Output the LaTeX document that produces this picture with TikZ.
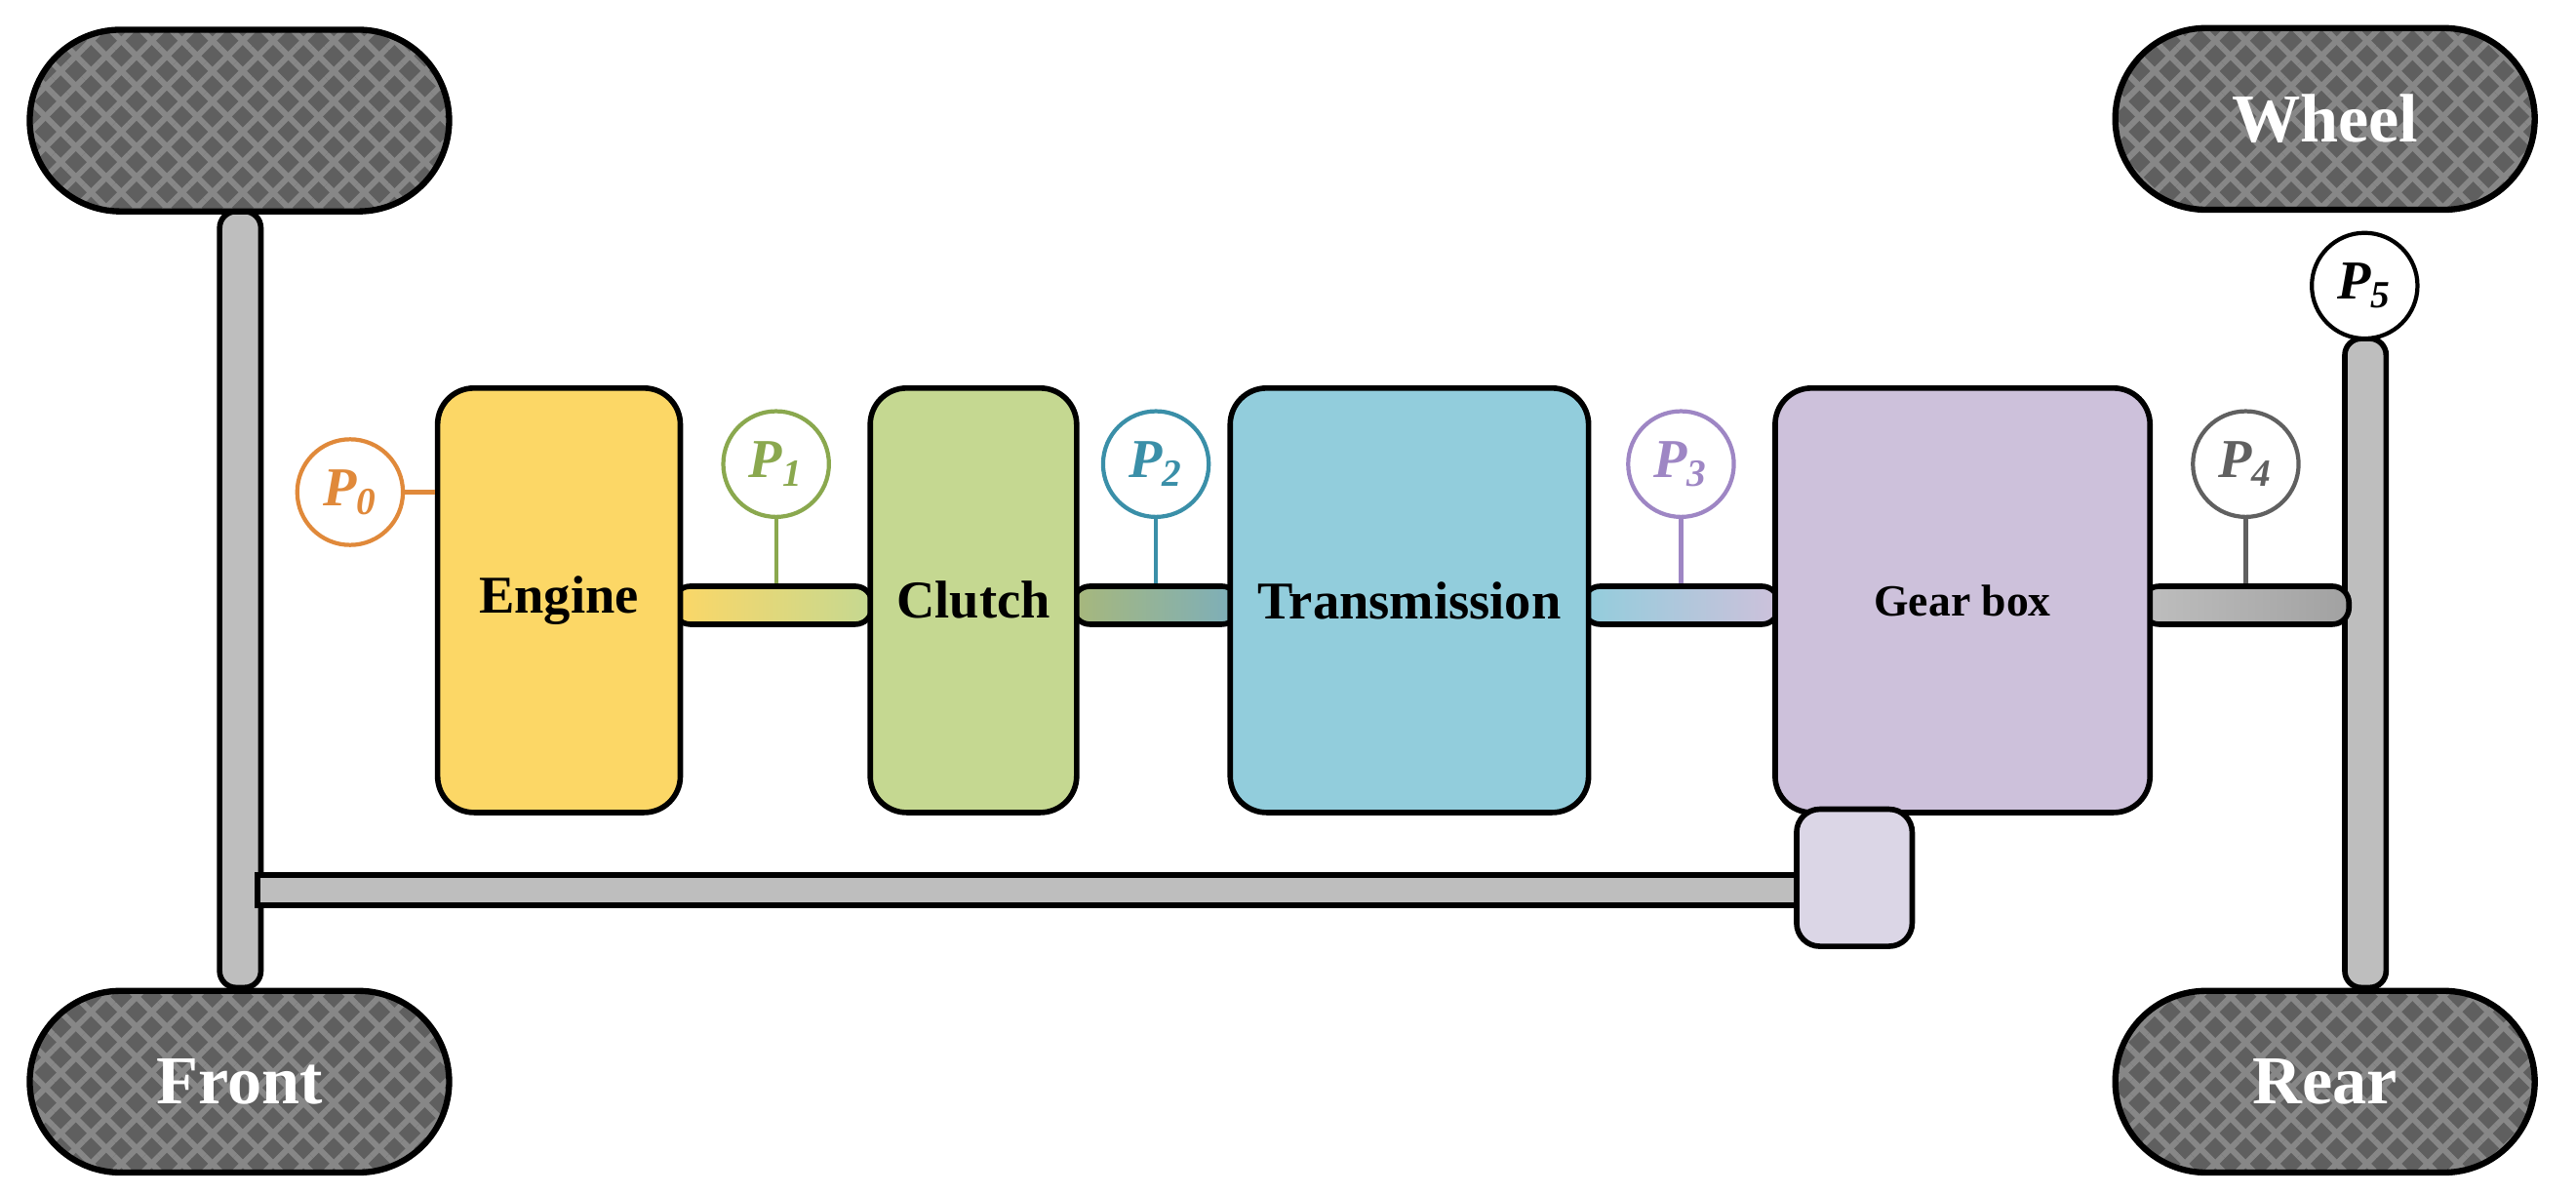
\documentclass[tikz,border=0pt]{standalone}
\usepackage{fontspec}
\setmainfont{Liberation Serif}
\usetikzlibrary{patterns.meta}
\newlength{\UU}\setlength{\UU}{0.1693mm}
\definecolor{eng}{HTML}{FCD766}
\definecolor{clu}{HTML}{C5D891}
\definecolor{tra}{HTML}{92CDDC}
\definecolor{gea}{HTML}{CDC1DB}
\definecolor{sma}{HTML}{DBD6E6}
\definecolor{cP0}{HTML}{E0893A}
\definecolor{cP1}{HTML}{8AA84E}
\definecolor{cP2}{HTML}{3A8FA8}
\definecolor{cP3}{HTML}{9E86C4}
\definecolor{cP4}{HTML}{606060}
\definecolor{axl}{HTML}{BEBEBE}
\definecolor{wdk}{HTML}{5F5F5F}
\definecolor{wlt}{HTML}{878787}
\begin{document}
\begin{tikzpicture}[x=\UU,y=-\UU,line width=1.6pt,
 blk/.style args={#1/#2/#3}{draw,rounded corners=22\UU,fill=#3,minimum width=#1\UU,minimum height=#2\UU,inner sep=0pt,font=\fontsize{15.5}{15.5}\selectfont\bfseries},
 bar/.style args={#1/#2}{draw,rounded corners=10\UU,minimum width=#1\UU,minimum height=#2\UU,inner sep=0pt},
 wheel/.style={rounded corners=55\UU,minimum width=254\UU,minimum height=110\UU,inner sep=0pt,
   fill=wdk,
   postaction={pattern={Lines[angle=45,distance=2.2mm,line width=0.6mm]},pattern color=wlt},
   postaction={pattern={Lines[angle=-45,distance=2.2mm,line width=0.6mm]},pattern color=wlt},
   postaction={draw=black,line width=1.8pt},
   text=white,font=\fontsize{20}{20}\selectfont\bfseries},
 pc/.style={draw=#1,circle,fill=white,minimum size=64\UU,inner sep=0pt,line width=1.2pt,text=#1,font=\fontsize{16}{16}\selectfont\bfseries\itshape},
 pl/.style={draw=#1,line width=1.2pt}]
\useasboundingbox (0,0) rectangle (1560,723);
% axles and bars
\node[bar=25/470,fill=axl] (la) at (145.5,363) {};
\node[bar=25/393,fill=axl] (ra) at (1432.5,401.5) {};
\node[bar=934/18,fill=axl,rounded corners=0pt] (hb) at (623,539) {};
% wheels
\node[wheel] (w1) at (145,73) {};
\node[wheel] (w2) at (1408,72) {Wheel};
\node[wheel] (w3) at (145,655) {Front};
\node[wheel] (w4) at (1408,655) {Rear};
% shafts
\node[bar=120/23,left color=eng,right color=clu] (s1) at (468,366.5) {};
\node[bar=100/23,left color=clu!85!black,right color=tra!85!black] (s2) at (700,366.5) {};
\node[bar=118/23,left color=tra,right color=gea] (s3) at (1018,366.5) {};
\node[bar=125/23,left color=axl,right color=axl!85!black] (s4) at (1360,366.5) {};
% blocks
\node[blk=147/257/eng] (eng) at (338.5,363.5) {Engine};
\node[blk=125/257/clu] (clu) at (589.5,363.5) {Clutch};
\node[blk=217/257/tra] (tra) at (853.5,363.5) {Transmission};
\node[blk=227/257/gea,font=\fontsize{13}{13}\selectfont\bfseries] (gea) at (1188.5,363.5) {Gear box};
\node[blk=70/83/sma,rounded corners=14\UU] (sb) at (1123,531.5) {};
% P markers
\node[pc=cP0] (p0) at (212,298) {P\textsubscript{0}};
\node[pc=cP1] (p1) at (470,281) {P\textsubscript{1}};
\node[pc=cP2] (p2) at (700,281) {P\textsubscript{2}};
\node[pc=cP3] (p3) at (1018,281) {P\textsubscript{3}};
\node[pc=cP4] (p4) at (1360,281) {P\textsubscript{4}};
\node[pc=black] (p5) at (1432,173) {P\textsubscript{5}};
\draw[pl=cP0] (p0) -- (eng.west |- p0);
\draw[pl=cP1] (p1) -- (p1 |- s1.north);
\draw[pl=cP2] (p2) -- (p2 |- s2.north);
\draw[pl=cP3] (p3) -- (p3 |- s3.north);
\draw[pl=cP4] (p4) -- (p4 |- s4.north);
\end{tikzpicture}
\end{document}
